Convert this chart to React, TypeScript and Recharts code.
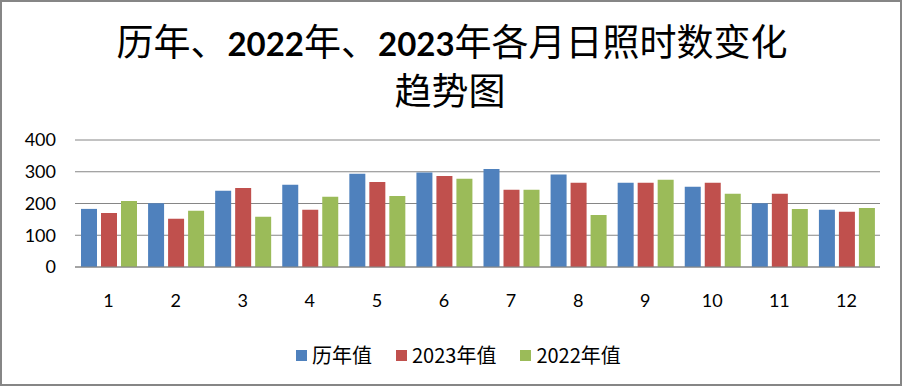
import React from 'react';
import { BarChart, Bar, XAxis, YAxis, CartesianGrid, Legend } from 'recharts';

const months = ['1', '2', '3', '4', '5', '6', '7', '8', '9', '10', '11', '12'];
const historical = [183, 201, 240, 259, 294, 298, 309, 291, 265, 253, 201, 180];
const y2023 = [170, 152, 249, 180, 268, 287, 243, 265, 265, 265, 231, 174];
const y2022 = [208, 177, 158, 221, 224, 278, 243, 164, 275, 231, 183, 186];
const yTicks = [0, 100, 200, 300, 400];
const seriesNames = ['历年值', '2023年值', '2022年值'];
const seriesColors = ['#4F81BD', '#C0504D', '#9BBB59'];

const data = months.map((m, i) => ({ month: m, h: historical[i], a: y2023[i], b: y2022[i] }));

const CJK = '"Noto Sans CJK SC", sans-serif';
const LAT = 'Lato, "Noto Sans", sans-serif';

const renderLegend = (props: any) => {
  const payload = [...(props.payload || [])].sort(
    (p: any, q: any) => seriesNames.indexOf(p.value) - seriesNames.indexOf(q.value)
  );
  return (
    <div style={{ display: 'flex', alignItems: 'center', height: 20 }}>
      {payload.map((e: any, i: number) => (
        <div key={i} style={{ display: 'flex', alignItems: 'center', marginRight: 24 }}>
          <span style={{ width: 11, height: 11, background: e.color, marginRight: 5, display: 'inline-block' }} />
          <span style={{ fontFamily: CJK, fontSize: 20, color: '#000', lineHeight: '20px', whiteSpace: 'nowrap' }}>{e.value}</span>
        </div>
      ))}
    </div>
  );
};

export default function App() {
  const tickStyle = { fontFamily: LAT, fontSize: 18, fill: '#000' };
  const digit = { fontFamily: LAT, fontWeight: 700, fontSize: 33, letterSpacing: 0 } as any;
  return (
    <div style={{ position: 'absolute', left: 0, top: 0, width: 903, height: 386, background: '#fff' }}>
      <BarChart
        width={903}
        height={386}
        data={data}
        margin={{ top: 140, right: 23, bottom: 79, left: 0 }}
        barSize={16}
        barGap={4}
      >
        <CartesianGrid vertical={false} stroke="#868686" strokeWidth={1} />
        <XAxis
          dataKey="month"
          height={40}
          tickLine={false}
          axisLine={{ stroke: '#868686', strokeWidth: 1 }}
          tick={tickStyle}
          tickMargin={21}
          interval={0}
        />
        <YAxis
          width={75}
          domain={[0, 400]}
          ticks={yTicks}
          axisLine={false}
          tickLine={false}
          tick={tickStyle}
          tickMargin={13}
          interval={0}
        />
        <Legend
          verticalAlign="middle"
          align="center"
          layout="horizontal"
          itemSorter={null as any}
          content={renderLegend}
          wrapperStyle={{ left: 296, top: 345, width: 'auto', height: 20 }}
        />
        <Bar dataKey="h" name={seriesNames[0]} fill={seriesColors[0]} isAnimationActive={false} />
        <Bar dataKey="a" name={seriesNames[1]} fill={seriesColors[1]} isAnimationActive={false} />
        <Bar dataKey="b" name={seriesNames[2]} fill={seriesColors[2]} isAnimationActive={false} />
      </BarChart>
      <svg width={903} height={386} style={{ position: 'absolute', left: 0, top: 0, pointerEvents: 'none' }}>
        <rect x={1} y={1} width={900} height={384} fill="none" stroke="#868686" strokeWidth={2} />
        <text x={452} y={56} textAnchor="middle" fill="#000" style={{ fontFamily: CJK, fontSize: 37 }}>
          <tspan>历年、</tspan>
          <tspan style={digit}>2022</tspan>
          <tspan>年、</tspan>
          <tspan style={digit}>2023</tspan>
          <tspan>年各月日照时数变化</tspan>
        </text>
        <text x={450} y={105} textAnchor="middle" fill="#000" style={{ fontFamily: CJK, fontSize: 37 }}>
          趋势图
        </text>
      </svg>
    </div>
  );
}
